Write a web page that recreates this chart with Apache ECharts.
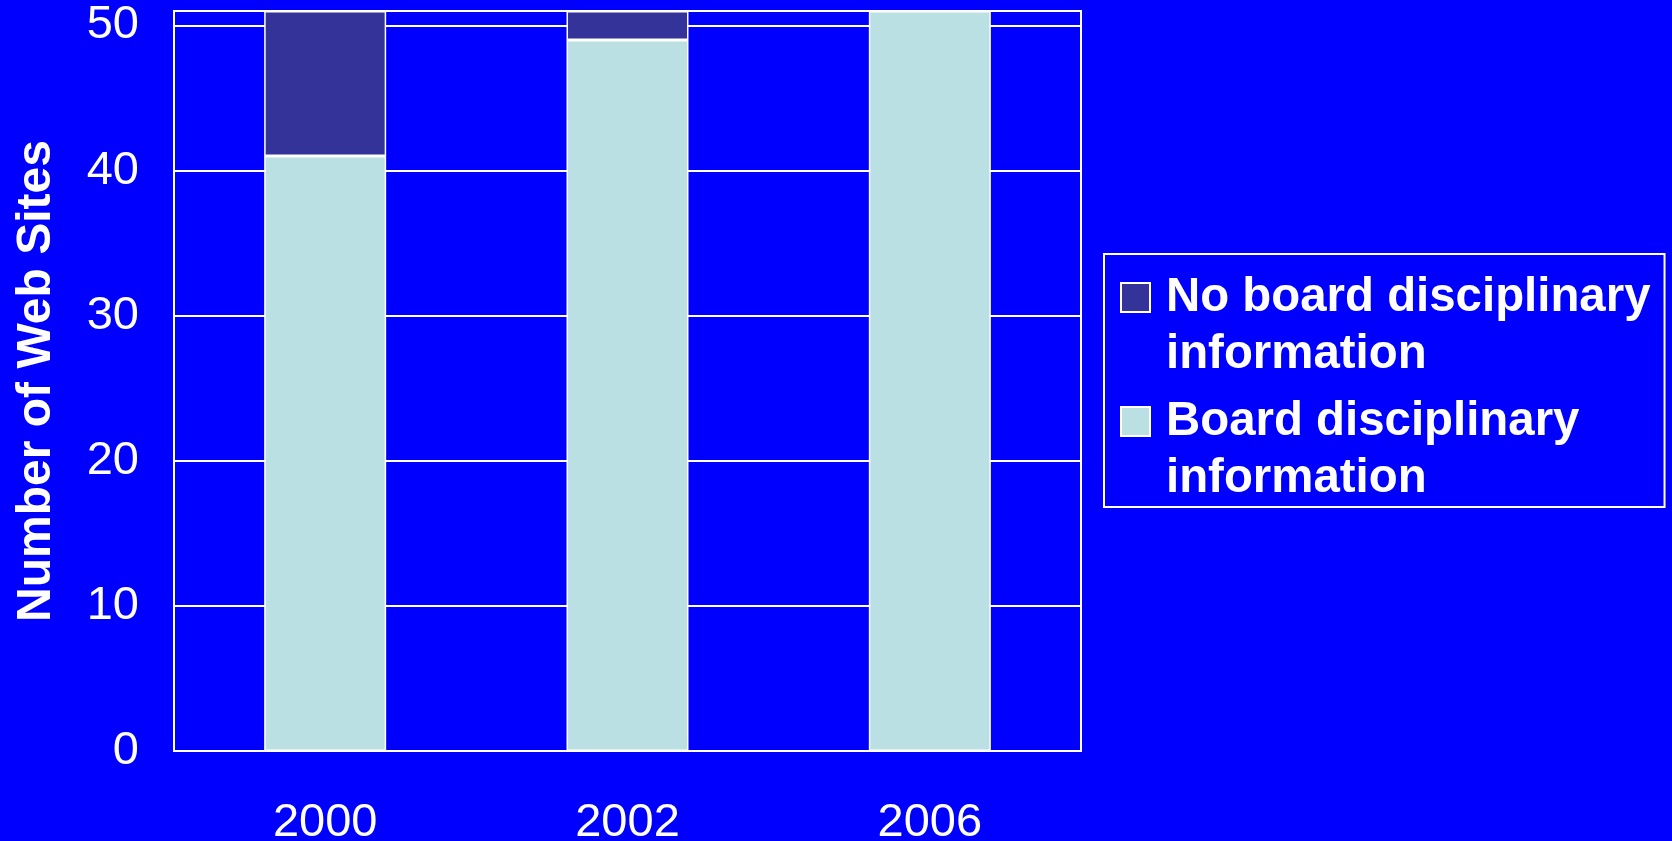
<!DOCTYPE html>
<html><head><meta charset="utf-8">
<style>html,body{margin:0;padding:0;background:#0000FF;}#c{width:1672px;height:841px;}</style>
<script src="https://cdn.jsdelivr.net/npm/echarts@6/dist/echarts.min.js"></script>
</head><body><div id="c"></div>
<script>
const categories = ['2000', '2002', '2006'];
const noBoardInfo = [10, 2, 0];
const boardInfo = [41, 49, 51];
const yTicks = [0, 10, 20, 30, 40, 50];
const seriesNames = ['No board disciplinary\ninformation', 'Board disciplinary\ninformation'];

const chart = echarts.init(document.getElementById('c'));
const FONT = 'Liberation Sans';
const iconPath = 'path://M0,0L29,0L29,29L0,29Z M0,86L0,86';
chart.setOption({
  backgroundColor: '#0000FF',
  animation: false,
  grid: {left: 174, right: 591, top: 11, bottom: 90, show: true, borderColor: '#ffffff', borderWidth: 2,
         containLabel: false, outerBoundsMode: 'none'},
  legend: {
    orient: 'vertical', left: 1104, top: 254,
    data: [seriesNames[0], seriesNames[1]],
    itemWidth: 29, itemHeight: 86, itemGap: 10,
    padding: [15, 14, 0, 16],
    borderColor: '#ffffff', borderWidth: 2,
    icon: iconPath,
    textStyle: {color: '#ffffff', fontFamily: FONT, fontWeight: 'bold', fontSize: 47.4, lineHeight: 57, padding: [0, 0, 0, 11]}
  },
  xAxis: {
    type: 'category', data: categories,
    axisLine: {show: true, lineStyle: {color: '#ffffff', width: 2}},
    axisTick: {show: false},
    axisLabel: {color: '#ffffff', fontFamily: FONT, fontSize: 47, margin: 49}
  },
  yAxis: {
    type: 'value', min: 0, max: 51, interval: 10,
    name: 'Number of Web Sites', nameLocation: 'middle', nameGap: 113,
    nameTextStyle: {color: '#ffffff', fontFamily: FONT, fontWeight: 'bold', fontSize: 48},
    axisLine: {show: false}, axisTick: {show: false},
    axisLabel: {color: '#ffffff', fontFamily: FONT, fontSize: 47, margin: 35, padding: [6, 0, 0, 0],
      formatter: v => yTicks.indexOf(v) >= 0 ? String(v) : ''},
    splitLine: {show: true, lineStyle: {color: '#ffffff', width: 2}}
  },
  series: [
    {name: seriesNames[1], type: 'bar', stack: 's', data: boardInfo, barWidth: 122,
     itemStyle: {color: '#BBE0E3', borderColor: '#ffffff', borderWidth: 1.5}},
    {name: seriesNames[0], type: 'bar', stack: 's', data: noBoardInfo, barWidth: 122,
     itemStyle: {color: '#333399', borderColor: '#ffffff', borderWidth: 1.5}}
  ]
});
</script></body></html>
